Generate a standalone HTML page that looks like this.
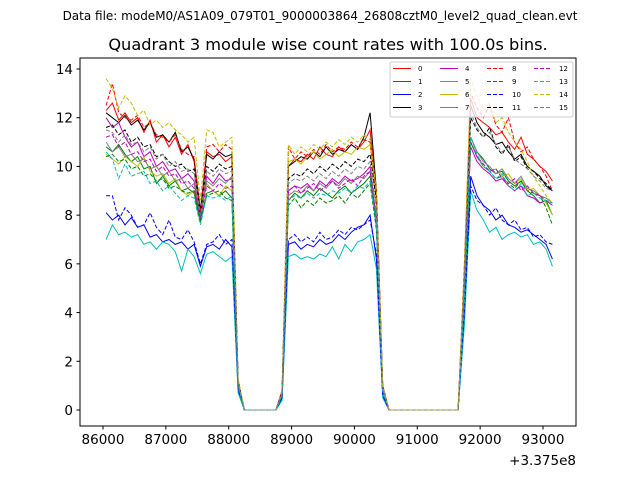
<!DOCTYPE html>
<html><head><meta charset="utf-8"><style>
html,body{margin:0;padding:0;background:#fff;}
svg{display:block;font-family:"DejaVu Sans","Liberation Sans",sans-serif;}
</style></head><body>
<svg id="chart" width="640" height="480" viewBox="0 0 640 480">
<rect width="640" height="480" fill="#fff"/>
<text x="320" y="20" font-size="12" text-anchor="middle">Data file: modeM0/AS1A09_079T01_9000003864_26808cztM0_level2_quad_clean.evt</text>
<text x="328" y="50" font-size="16.2" text-anchor="middle">Quadrant 3 module wise count rates with 100.0s bins.</text>
<g id="series"></g>
<g id="axes"></g>
<text x="576" y="465" font-size="13.5" text-anchor="end">+3.375e8</text>
<g id="legend"></g>
</svg>
<script>
const NS='http://www.w3.org/2000/svg';
const xTicks=[86000,87000,88000,89000,90000,91000,92000,93000];
const yTicks=[0,2,4,6,8,10,12,14];
const seriesNames=['0','1','2','3','4','5','6','7','8','9','10','11','12','13','14','15'];
const seriesColors=['#ff0000','#008000','#0000ff','#000000','#bf00bf','#00bfbf','#bfbf00','#808080','#ff0000','#008000','#0000ff','#000000','#bf00bf','#00bfbf','#bfbf00','#808080'];
const times=[];
for(let i=0;i<72;i++)times.push(86050+100*i);
const seg1=[
[12.3,12.6,11.9,12.2,11.8,12.0,11.4,11.9,11.0,11.3,10.8,11.2,10.5,10.9,10.2,8.0,10.6,10.4,10.5,10.2,10.4,1.2],
[10.8,10.6,10.9,10.5,10.2,10.4,9.9,10.0,9.3,9.6,9.2,9.4,9.0,9.1,8.9,7.7,8.9,9.0,8.8,9.0,8.7,1.0],
[8.1,7.8,8.0,7.6,7.9,7.5,7.6,7.1,7.2,6.9,7.0,6.8,6.9,6.6,6.8,5.9,6.7,6.8,6.6,7.0,6.7,0.8],
[12.2,12.0,11.8,12.1,11.7,11.9,11.5,11.8,11.2,11.3,11.0,11.4,10.6,10.8,10.3,8.2,10.5,10.3,10.6,10.4,10.5,1.2],
[12.0,11.6,11.8,11.2,10.8,11.0,10.4,10.6,10.0,10.2,9.8,9.9,9.5,9.7,9.4,7.9,9.6,9.3,9.7,9.4,9.5,1.1],
[7.0,7.6,7.2,7.3,7.1,7.2,6.8,6.9,6.6,6.9,6.8,6.5,5.7,6.6,6.3,5.6,6.4,6.5,6.3,6.1,6.3,0.7],
[10.5,10.3,10.1,10.4,10.2,10.0,10.4,9.8,9.6,9.7,9.3,9.5,9.0,8.8,9.0,8.0,9.3,9.0,8.8,9.2,9.0,1.0],
[11.0,10.6,10.8,10.4,10.5,10.2,10.3,9.9,10.0,9.6,9.8,9.4,9.5,9.1,9.3,7.8,9.4,9.2,9.5,9.3,9.6,1.0],
[12.5,13.4,12.2,12.0,11.9,12.1,11.6,11.8,11.3,11.2,11.0,11.3,10.7,10.5,10.4,8.1,10.8,10.9,10.6,10.9,10.7,1.2],
[10.4,10.5,10.2,10.3,9.9,10.0,9.6,9.7,9.4,9.5,9.1,9.2,9.0,8.9,9.0,7.8,8.8,8.9,9.0,8.7,8.6,1.0],
[8.8,8.8,7.8,8.3,8.0,7.5,7.6,8.1,7.5,7.2,7.8,7.1,7.0,7.4,6.9,6.0,6.8,6.9,7.2,6.8,7.0,0.9],
[11.6,11.7,11.3,11.5,11.0,11.2,10.8,10.9,10.4,10.5,10.2,10.0,10.1,9.8,9.9,8.0,10.0,9.8,10.1,9.9,10.0,1.1],
[11.2,11.3,10.8,11.0,10.5,10.6,10.2,10.3,9.8,10.0,9.6,9.7,9.3,9.4,9.1,7.9,9.2,9.0,9.3,9.1,9.2,1.0],
[10.6,10.3,9.5,10.1,9.6,9.7,9.8,9.3,9.4,9.0,9.2,8.9,8.6,8.8,8.7,7.6,8.8,8.7,8.8,8.6,8.8,1.0],
[13.6,13.2,12.4,12.9,12.6,12.1,12.3,11.7,11.9,11.6,11.8,11.5,11.3,11.0,11.2,8.6,11.5,11.4,10.8,11.0,11.2,1.3],
[11.5,11.4,11.0,11.3,10.9,11.0,10.6,10.8,10.3,10.5,10.0,10.2,9.8,9.9,9.7,8.0,9.8,9.6,9.9,9.7,9.8,1.1]];
const seg2=[
[0.8,10.0,10.3,10.2,10.5,10.3,10.8,10.5,10.4,10.8,10.6,10.9,10.7,11.0,11.5,8.8,1.0],
[0.6,8.6,8.9,8.7,9.0,8.8,9.1,8.9,8.7,9.0,9.2,8.9,9.1,9.3,9.6,7.5,0.8],
[0.5,6.8,6.9,6.6,6.8,6.7,7.0,6.8,6.9,7.2,7.0,7.3,7.5,7.6,8.0,6.2,0.6],
[0.8,10.0,10.2,10.4,10.3,10.6,10.4,10.8,10.5,10.7,10.6,10.9,10.7,11.2,12.2,9.0,1.0],
[0.7,9.0,9.2,9.1,9.3,9.0,9.4,9.2,9.5,9.3,9.6,9.4,9.5,9.7,10.0,7.8,0.9],
[0.4,6.3,6.4,6.2,6.3,6.2,6.4,6.3,6.7,6.2,6.8,6.5,6.9,7.0,7.2,5.8,0.5],
[0.7,10.2,10.3,10.1,10.4,10.6,10.3,10.5,10.7,10.4,10.6,10.5,10.8,10.7,10.9,8.5,0.9],
[0.7,8.8,9.0,8.9,9.2,9.0,9.3,9.1,9.4,9.2,9.5,9.3,9.6,9.5,9.8,7.9,0.9],
[0.8,10.8,10.3,10.6,10.4,10.7,10.5,10.9,10.6,10.8,10.7,11.0,10.8,11.1,11.0,9.0,1.0],
[0.6,8.4,8.7,8.3,8.6,8.4,8.7,8.5,8.6,8.8,8.5,8.9,8.7,9.0,9.3,7.4,0.8],
[0.5,7.0,7.2,6.9,7.1,6.9,7.3,7.0,7.1,7.4,7.2,7.5,7.4,7.6,7.8,6.4,0.6],
[0.7,9.5,9.7,9.6,9.9,9.7,10.0,9.8,10.1,9.9,10.2,10.0,10.3,10.2,10.5,8.6,0.9],
[0.7,9.0,9.2,8.9,9.1,9.3,9.0,9.2,9.4,9.1,9.3,9.5,9.2,9.6,9.8,7.8,0.9],
[0.6,8.6,8.8,8.7,8.9,8.7,8.9,8.8,9.0,8.9,9.1,8.9,9.2,9.1,9.4,7.6,0.8],
[0.8,10.9,10.5,10.8,10.6,10.9,10.7,11.0,10.8,11.1,10.9,11.2,11.0,11.3,11.1,9.0,1.0],
[0.7,9.3,9.5,9.4,9.6,9.4,9.7,9.5,9.8,9.6,9.9,9.7,10.0,9.9,10.2,8.2,0.9]];
const seg3=[
[5,12.8,12.0,11.8,11.6,11.3,11.4,11.0,10.7,11.2,10.5,10.3,10.0,9.8,9.4],
[4.5,11.2,10.6,10.3,9.9,9.7,9.8,9.4,9.2,9.4,9.0,8.8,8.5,8.6,8.0],
[4,9.6,8.8,8.4,8.2,7.8,8.0,7.6,7.5,7.3,7.4,7.2,7.0,6.8,6.2],
[5.5,12.5,11.8,11.4,11.2,10.9,11.0,10.6,10.3,10.5,10.0,9.8,9.6,9.2,9.0],
[5,10.8,10.2,9.9,9.7,9.4,9.5,9.2,9.0,9.2,8.8,8.7,8.5,8.6,8.4],
[3.5,9.0,8.2,7.8,7.3,7.5,7.0,7.2,7.3,7.1,7.2,6.8,6.9,6.6,5.9],
[5,11.0,10.4,10.0,9.8,9.9,9.6,9.7,9.3,9.5,9.0,9.1,8.8,8.5,8.0],
[5,11.2,10.6,10.2,10.0,9.7,9.9,9.5,9.3,9.6,9.1,9.0,8.8,8.7,8.5],
[6,13.0,12.4,12.0,12.5,11.7,11.4,12.0,11.0,10.6,10.8,10.3,10.0,9.6,9.0],
[4.5,11.0,10.4,10.0,9.8,9.5,9.6,9.3,9.1,9.4,9.0,8.9,8.8,8.3,7.6],
[4,9.2,8.6,8.4,8.0,8.3,7.8,7.6,7.8,7.4,7.5,7.1,7.2,6.9,6.8],
[5.5,12.0,11.5,11.2,11.6,10.8,10.5,10.9,10.2,10.4,9.9,9.8,9.5,9.3,9.0],
[5,11.0,10.4,10.1,9.8,9.9,9.5,9.3,9.5,9.0,9.2,8.9,8.8,8.6,8.5],
[4.5,11.2,10.5,10.0,9.8,9.5,9.7,9.2,9.0,9.3,8.8,8.9,8.7,8.6,8.5],
[6,13.6,12.9,12.3,12.6,11.8,12.0,11.4,11.0,10.7,10.2,9.6,9.2,8.8,8.5],
[5.5,12.2,11.6,11.2,11.4,10.9,10.6,10.8,10.3,10.1,9.9,9.6,9.4,9.1,9.0]];
const zerosA=[0,0,0,0,0,0];
const zerosB=[0,0,0,0,0,0,0,0,0,0,0,0];

const L=80,R=576,T=58,B=426;
function xs(t){return 103+(t-86000)*(440/7000);}
function ys(v){return 410-v*(341/14);}
function mk(tag,attrs,parent){const e=document.createElementNS(NS,tag);for(const k in attrs)e.setAttribute(k,attrs[k]);parent.appendChild(e);return e;}

const sg=document.getElementById('series');
for(let s=0;s<16;s++){
  const vals=[...seg1[s],...zerosA,...seg2[s],...zerosB,...seg3[s]];
  const pts=vals.map((v,i)=>xs(times[i]).toFixed(1)+','+ys(v).toFixed(1)).join(' ');
  const pl=mk('polyline',{points:pts,fill:'none',stroke:seriesColors[s],'stroke-width':1,'stroke-dasharray':s>=8?'4,2':'none'},sg);
  
  
}
const ag=document.getElementById('axes');
const fr=mk('rect',{x:L,y:T,width:R-L,height:B-T,fill:'none',stroke:'#000','stroke-width':1},ag);


xTicks.forEach(t=>{
  const x=xs(t);
  const tk=mk('line',{x1:x,x2:x,y1:B,y2:B+3.5,stroke:'#000'},ag);
  
  
  const lb=mk('text',{x:x,y:B+18,'font-size':13.5,'text-anchor':'middle'},ag);
  lb.textContent=t;
  
  
});
yTicks.forEach(v=>{
  const y=ys(v);
  const tk=mk('line',{x1:L-3.5,x2:L,y1:y,y2:y,stroke:'#000'},ag);
  
  
  const lb=mk('text',{x:L-7,y:y+5,'font-size':13.5,'text-anchor':'end'},ag);
  lb.textContent=v;
  
  
});
const lg=document.getElementById('legend');
const box=mk('rect',{x:390,y:62,width:183,height:55,rx:2,fill:'#fff','fill-opacity':0.8,stroke:'#ccc','stroke-width':1},lg);


for(let s=0;s<16;s++){
  const c=Math.floor(s/4),r=s%4;
  const x0=393+c*47,y0=68.5+r*13;
  const ln=mk('line',{x1:x0,x2:x0+18,y1:y0,y2:y0,stroke:seriesColors[s],'stroke-width':1,'stroke-dasharray':s>=8?'4,2':'none'},lg);
  
  
  const tx=mk('text',{x:x0+25,y:y0+2.5,'font-size':7},lg);
  tx.textContent=seriesNames[s];
  
  
}
</script>
</body></html>
